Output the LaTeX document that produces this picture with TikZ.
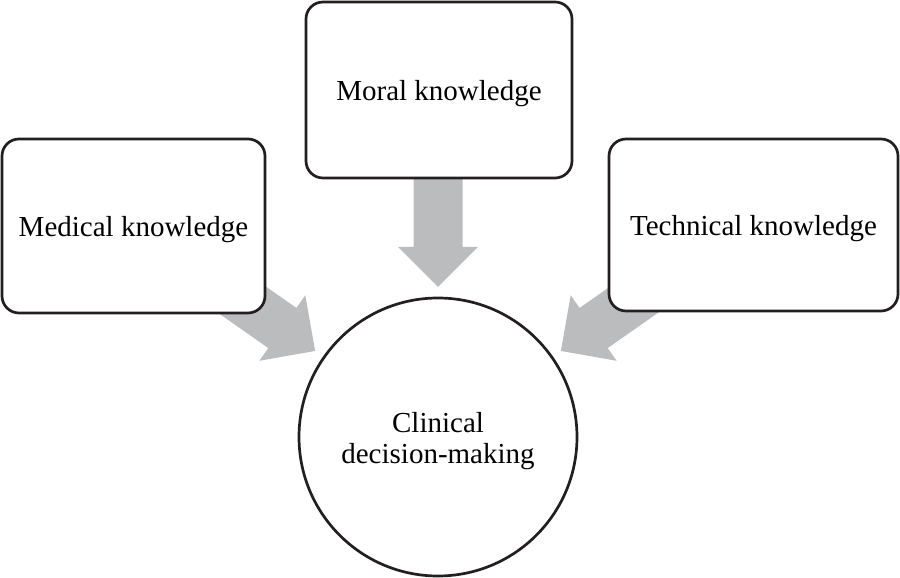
\documentclass[tikz,border=0pt]{standalone}
\usepackage{fontspec}
\setmainfont{Liberation Serif}
\definecolor{arrowgray}{RGB}{187,188,190}
\definecolor{linegray}{RGB}{35,31,32}
\begin{document}
\begin{tikzpicture}[x=1pt,y=1pt,
  kbox/.style={draw=linegray, line width=2.7pt, rounded corners=17pt, fill=white,
    inner sep=0pt, text height=21pt, text depth=0.5pt, font=\fontsize{29}{31}\selectfont},
  kcirc/.style={draw=linegray, line width=2.7pt, circle, fill=white, inner sep=0pt,
    minimum size=278pt},
  ktext/.style={align=center, inner sep=0pt, font=\fontsize{29}{30.5}\selectfont},
  blockarrow/.style={fill=arrowgray}]
\useasboundingbox (0,0) rectangle (900,578);
\node[kcirc] (cd) at (438,141) {};
\node[ktext] (cdtext) at ([yshift=-4pt]cd.center) {Clinical\\decision-making};
% block arrows pointing at the circle
\foreach \ang/\len in {90/265, 145/275, 35/275}{
  \begin{scope}[shift={(cd.center)}, rotate=\ang]
    \fill[blockarrow] (150,0) -- (190,40) -- (190,24.5) -- (\len,24.5)
      -- (\len,-24.5) -- (190,-24.5) -- (190,-40) -- cycle;
  \end{scope}
}
\node[kbox, minimum width=266pt, minimum height=176pt] (moral) at (439,488) {Moral knowledge};
\node[kbox, minimum width=263pt, minimum height=174pt] (medical) at (133.5,352) {Medical knowledge};
\node[kbox, minimum width=289pt, minimum height=172pt] (technical) at (753.5,353) {Technical knowledge};
\end{tikzpicture}
\end{document}
